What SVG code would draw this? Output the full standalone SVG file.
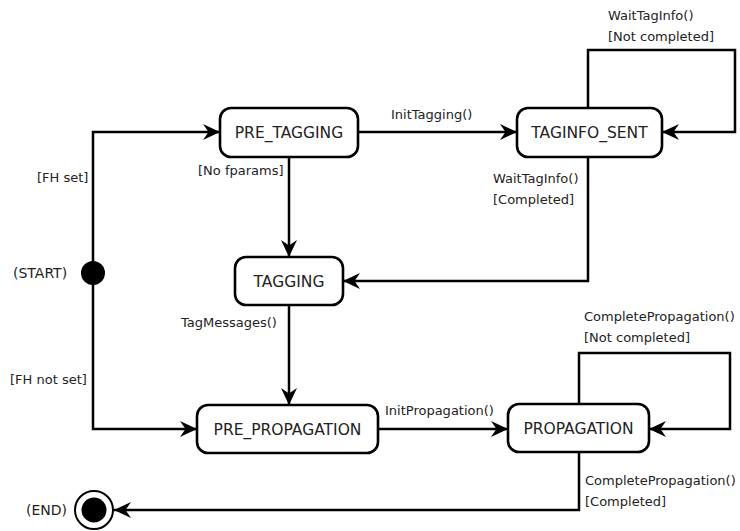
<svg xmlns="http://www.w3.org/2000/svg" width="740" height="531" viewBox="0 0 740 531">
  <defs>
    <marker id="arrow" viewBox="0 0 17 17" refX="17" refY="8.5" markerWidth="17" markerHeight="17" markerUnits="userSpaceOnUse" orient="auto">
      <path d="M17,8.5 L0,0.5 L5.5,8.5 L0,16.5 Z" fill="#000"/>
    </marker>
  </defs>
  <style>
    .state rect { fill: #fff; stroke: #000; stroke-width: 2.6; }
    .state text { font-family: "DejaVu Sans", sans-serif; font-size: 15.5px; fill: #222; text-anchor: middle; }
    .edge { fill: none; stroke: #000; stroke-width: 2.5; marker-end: url(#arrow); }
    .lbl { font-family: "DejaVu Sans", sans-serif; font-size: 13px; fill: #222; }
    .pseudo text { font-family: "DejaVu Sans", sans-serif; font-size: 14px; fill: #222; }
  </style>
  <rect width="740" height="531" fill="#fff"/>

  <!-- transitions -->
  <g id="connectors">
    <path class="edge" d="M93,273 V132 H220"/>
    <path class="edge" d="M93,273 V429 H197"/>
    <path class="edge" d="M358,132 H517"/>
    <path class="edge" d="M588,108 V50 H735 V132 H662"/>
    <path class="edge" d="M289,157 V257"/>
    <path class="edge" d="M588,157 V281 H343"/>
    <path class="edge" d="M289,305 V405"/>
    <path class="edge" d="M378,429 H508"/>
    <path class="edge" d="M579,404 V353 H730 V429 H649"/>
    <path class="edge" d="M579,452 V510 H114"/>

    <text class="lbl" x="37" y="182">[FH set]</text>
    <text class="lbl" x="10" y="384">[FH not set]</text>
    <text class="lbl" x="391" y="119">InitTagging()</text>
    <text class="lbl" x="198" y="175">[No fparams]</text>
    <text class="lbl" x="608" y="20">WaitTagInfo()</text>
    <text class="lbl" x="608" y="41">[Not completed]</text>
    <text class="lbl" x="493" y="183">WaitTagInfo()</text>
    <text class="lbl" x="493" y="204">[Completed]</text>
    <text class="lbl" x="181" y="327">TagMessages()</text>
    <text class="lbl" x="385" y="415">InitPropagation()</text>
    <text class="lbl" x="584" y="321">CompletePropagation()</text>
    <text class="lbl" x="584" y="342">[Not completed]</text>
    <text class="lbl" x="585" y="485">CompletePropagation()</text>
    <text class="lbl" x="585" y="506">[Completed]</text>
  </g>

  <g id="start" class="pseudo">
    <circle cx="93" cy="273" r="12" fill="#000"/>
    <text x="13" y="278">(START)</text>
  </g>

  <g id="end" class="pseudo">
    <circle cx="94" cy="510" r="19" fill="#fff" stroke="#000" stroke-width="2"/>
    <circle cx="94" cy="510" r="12.5" fill="#000"/>
    <text x="26" y="515">(END)</text>
  </g>

  <g id="pre_tagging" class="state">
    <rect x="220" y="108" width="138" height="49" rx="11"/>
    <text x="289" y="138">PRE_TAGGING</text>
  </g>

  <g id="taginfo_sent" class="state">
    <rect x="517" y="108" width="145" height="49" rx="11"/>
    <text x="589.5" y="138">TAGINFO_SENT</text>
  </g>

  <g id="tagging" class="state">
    <rect x="235" y="257" width="108" height="48" rx="11"/>
    <text x="289" y="287">TAGGING</text>
  </g>

  <g id="pre_propagation" class="state">
    <rect x="197" y="405" width="181" height="48" rx="11"/>
    <text x="287.5" y="435">PRE_PROPAGATION</text>
  </g>

  <g id="propagation" class="state">
    <rect x="508" y="404" width="141" height="48" rx="11"/>
    <text x="578.5" y="434">PROPAGATION</text>
  </g>
</svg>
